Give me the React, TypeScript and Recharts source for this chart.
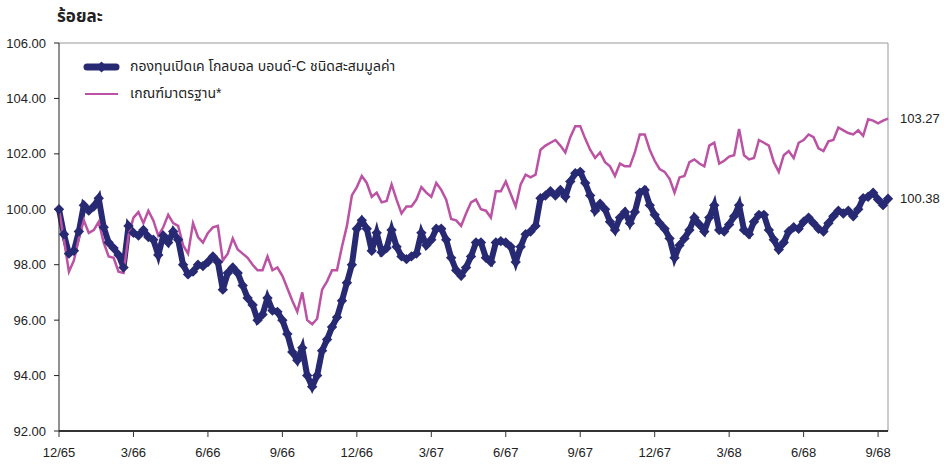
import React from "react";
import { LineChart, Line, XAxis, YAxis, ReferenceLine } from "recharts";

const FUND_NAME = "กองทุนเปิดเค โกลบอล บอนด์-C ชนิดสะสมมูลค่า";
const BENCH_NAME = "เกณฑ์มาตรฐาน*";
const Y_TITLE = "ร้อยละ";

// quarter labels (Thai year), one every 15 points
const X_LABELS = ["12/65", "3/66", "6/66", "9/66", "12/66", "3/67", "6/67", "9/67", "12/67", "3/68", "6/68", "9/68"];
const Y_TICKS = [92, 94, 96, 98, 100, 102, 104, 106];

// NAV index (about one point per 6 days)
const FUND = [
  100.0, 99.1, 98.4, 98.5, 99.2, 100.15, 99.95, 100.1, 100.4, 99.35,
  98.8, 98.6, 98.35, 97.9, 99.4, 99.15, 99.05, 99.25, 99.0, 98.9,
  98.35, 99.05, 98.8, 99.2, 98.9, 98.0, 97.65, 97.75, 98.0, 97.95,
  98.1, 98.3, 98.1, 97.1, 97.7, 97.9, 97.7, 97.25, 96.8, 96.55,
  96.0, 96.2, 96.8, 96.35, 96.3, 96.0, 95.5, 94.85, 94.55, 95.0,
  94.0, 93.6, 94.0, 94.9, 95.3, 95.75, 96.1, 96.7, 97.35, 98.0,
  99.3, 99.6, 99.3, 98.5, 99.15, 98.45, 98.6, 99.25, 98.65, 98.3,
  98.2, 98.3, 98.4, 99.15, 98.7, 98.9, 99.3, 99.3, 98.9, 98.25,
  97.8, 97.6, 97.9, 98.3, 98.8, 98.8, 98.25, 98.1, 98.8, 98.85,
  98.8, 98.65, 98.1, 98.65, 99.1, 99.2, 99.4, 100.4, 100.5, 100.65,
  100.5, 100.7, 100.45, 101.0, 101.3, 101.35, 100.95, 100.5, 99.95, 100.2,
  100.0, 99.55, 99.25, 99.7, 99.9, 99.5, 99.9, 100.6, 100.7, 100.15,
  99.8, 99.5, 99.3, 98.95, 98.25, 98.7, 98.95, 99.25, 99.7, 99.45,
  99.2, 99.7, 100.15, 99.25, 99.2, 99.45, 99.75, 100.15, 99.25, 99.1,
  99.55, 99.8, 99.8, 99.25, 98.9, 98.55, 98.8, 99.2, 99.35, 99.3,
  99.55, 99.7, 99.5, 99.3, 99.2, 99.5, 99.75, 99.95, 99.85, 99.95,
  99.75, 100.0, 100.4, 100.45, 100.6, 100.35, 100.15, 100.38,
];

const BENCH = [
  100.0, 98.9, 97.75, 98.15, 98.95, 99.6, 99.15, 99.25, 99.55, 98.8,
  98.3, 98.25, 97.75, 97.7, 99.05, 99.7, 99.9, 99.5, 99.95, 99.6,
  99.05, 99.35, 99.8, 99.5, 99.4, 98.7, 98.4, 99.5, 99.0, 98.8,
  99.15, 99.35, 99.4, 98.15, 98.4, 98.95, 98.55, 98.4, 98.25, 98.0,
  97.8, 97.8, 98.3, 97.8, 97.9, 97.6, 97.15, 96.7, 96.3, 97.0,
  96.0, 95.85, 96.05, 97.1, 97.4, 97.8, 97.8, 98.65, 99.4, 100.5,
  100.8, 101.2, 100.95, 100.45, 100.6, 100.25, 100.3, 100.9, 100.35, 99.85,
  100.1, 100.1, 100.35, 100.8, 100.6, 100.45, 100.95, 100.7, 100.35, 99.65,
  99.6, 99.4, 99.85, 100.25, 100.35, 100.0, 99.95, 99.7, 100.65, 100.65,
  101.0, 100.55, 100.1, 100.9, 101.25, 101.15, 101.25, 102.15, 102.3, 102.4,
  102.5, 102.3, 102.05, 102.6, 103.0, 103.0, 102.55, 102.15, 101.85, 102.05,
  101.7, 101.55, 101.2, 101.65, 101.55, 101.55, 102.05, 102.7, 102.7, 102.15,
  101.75, 101.45, 101.35, 101.1, 100.6, 101.15, 101.2, 101.7, 101.8, 101.65,
  101.55, 102.3, 102.4, 101.65, 101.75, 101.9, 101.95, 102.9, 101.95, 101.8,
  101.85, 102.5, 102.4, 102.3, 101.7, 101.35, 101.95, 102.1, 101.85, 102.4,
  102.5, 102.7, 102.6, 102.2, 102.1, 102.45, 102.5, 102.95, 102.85, 102.75,
  102.7, 102.85, 102.65, 103.25, 103.2, 103.1, 103.2, 103.27,
];

const NAVY = "#272A73";
const PINK = "#BC52A3";
const LAST = FUND.length - 1;

const data = FUND.map((v, i) => ({ i, fund: v, bench: BENCH[i] }));
const xTicks = X_LABELS.map((_, k) => k * 15);

const Diamond = (props: any) => {
  const { cx, cy, index } = props;
  if (cx == null || cy == null) return <g key={`d-${index}`} />;
  const r = 5.2;
  return (
    <path
      key={`d-${index}`}
      d={`M${cx},${cy - r}L${cx + r},${cy}L${cx},${cy + r}L${cx - r},${cy}Z`}
      fill={NAVY}
    />
  );
};

const endLabel = (props: any) => {
  const { x, y, index, value } = props;
  if (index !== LAST) return <g key={`l-${index}`} />;
  return (
    <text key={`l-${index}`} x={x + 12} y={y} dy="0.35em" fontSize={13} fill="#222">
      {Number(value).toFixed(2)}
    </text>
  );
};

export default function App() {
  return (
    <div
      style={{
        position: "absolute",
        left: 0,
        top: 0,
        width: 952,
        height: 465,
        background: "#fff",
        fontFamily: "'Liberation Sans', Arial, 'Noto Sans Thai', Tahoma, sans-serif",
      }}
    >
      <div style={{ position: "absolute", left: 57, top: 4, fontSize: 17, fontWeight: "bold", color: "#222" }}>
        {Y_TITLE}
      </div>
      <LineChart width={952} height={465} data={data} margin={{ top: 43, right: 64, bottom: 0, left: 0 }}>
        <XAxis
          dataKey="i"
          type="number"
          domain={[0, LAST]}
          ticks={xTicks}
          tickFormatter={(v: number) => X_LABELS[Math.round(v / 15)]}
          height={34}
          axisLine={{ stroke: "#333", strokeWidth: 2 }}
          tickLine={{ stroke: "#333" }}
          tickSize={6}
          tickMargin={11}
          tick={{ fontSize: 13, fill: "#222" }}
          interval={0}
        />
        <YAxis
          domain={[92, 106]}
          ticks={Y_TICKS}
          width={59}
          tickFormatter={(v: number) => v.toFixed(2)}
          axisLine={{ stroke: "#222" }}
          tickLine={{ stroke: "#222" }}
          tickSize={5}
          tickMargin={8}
          tick={{ fontSize: 13, fill: "#222" }}
          interval={0}
        />
        <ReferenceLine y={106} stroke="#999" />
        <ReferenceLine x={LAST} stroke="#999" />
        <Line
          dataKey="fund"
          stroke={NAVY}
          strokeWidth={6}
          dot={Diamond}
          activeDot={false}
          isAnimationActive={false}
          label={endLabel}
        />
        <Line
          dataKey="bench"
          stroke={PINK}
          strokeWidth={2.5}
          dot={false}
          activeDot={false}
          isAnimationActive={false}
          label={endLabel}
        />
      </LineChart>
      {/* legend box, placed over the plot like the original */}
      <div style={{ position: "absolute", left: 83, top: 53, fontSize: 14, color: "#222", lineHeight: "27px" }}>
        <div style={{ display: "flex", alignItems: "center" }}>
          <svg width={47} height={14}>
            <line x1={4} y1={7} x2={33} y2={7} stroke={NAVY} strokeWidth={7} strokeLinecap="round" />
            <path d="M18.5,1.5L24,7L18.5,12.5L13,7Z" fill={NAVY} />
          </svg>
          <span>{FUND_NAME}</span>
        </div>
        <div style={{ display: "flex", alignItems: "center" }}>
          <svg width={47} height={14}>
            <line x1={2} y1={7} x2={35} y2={7} stroke={PINK} strokeWidth={2} />
          </svg>
          <span>{BENCH_NAME}</span>
        </div>
      </div>
    </div>
  );
}
